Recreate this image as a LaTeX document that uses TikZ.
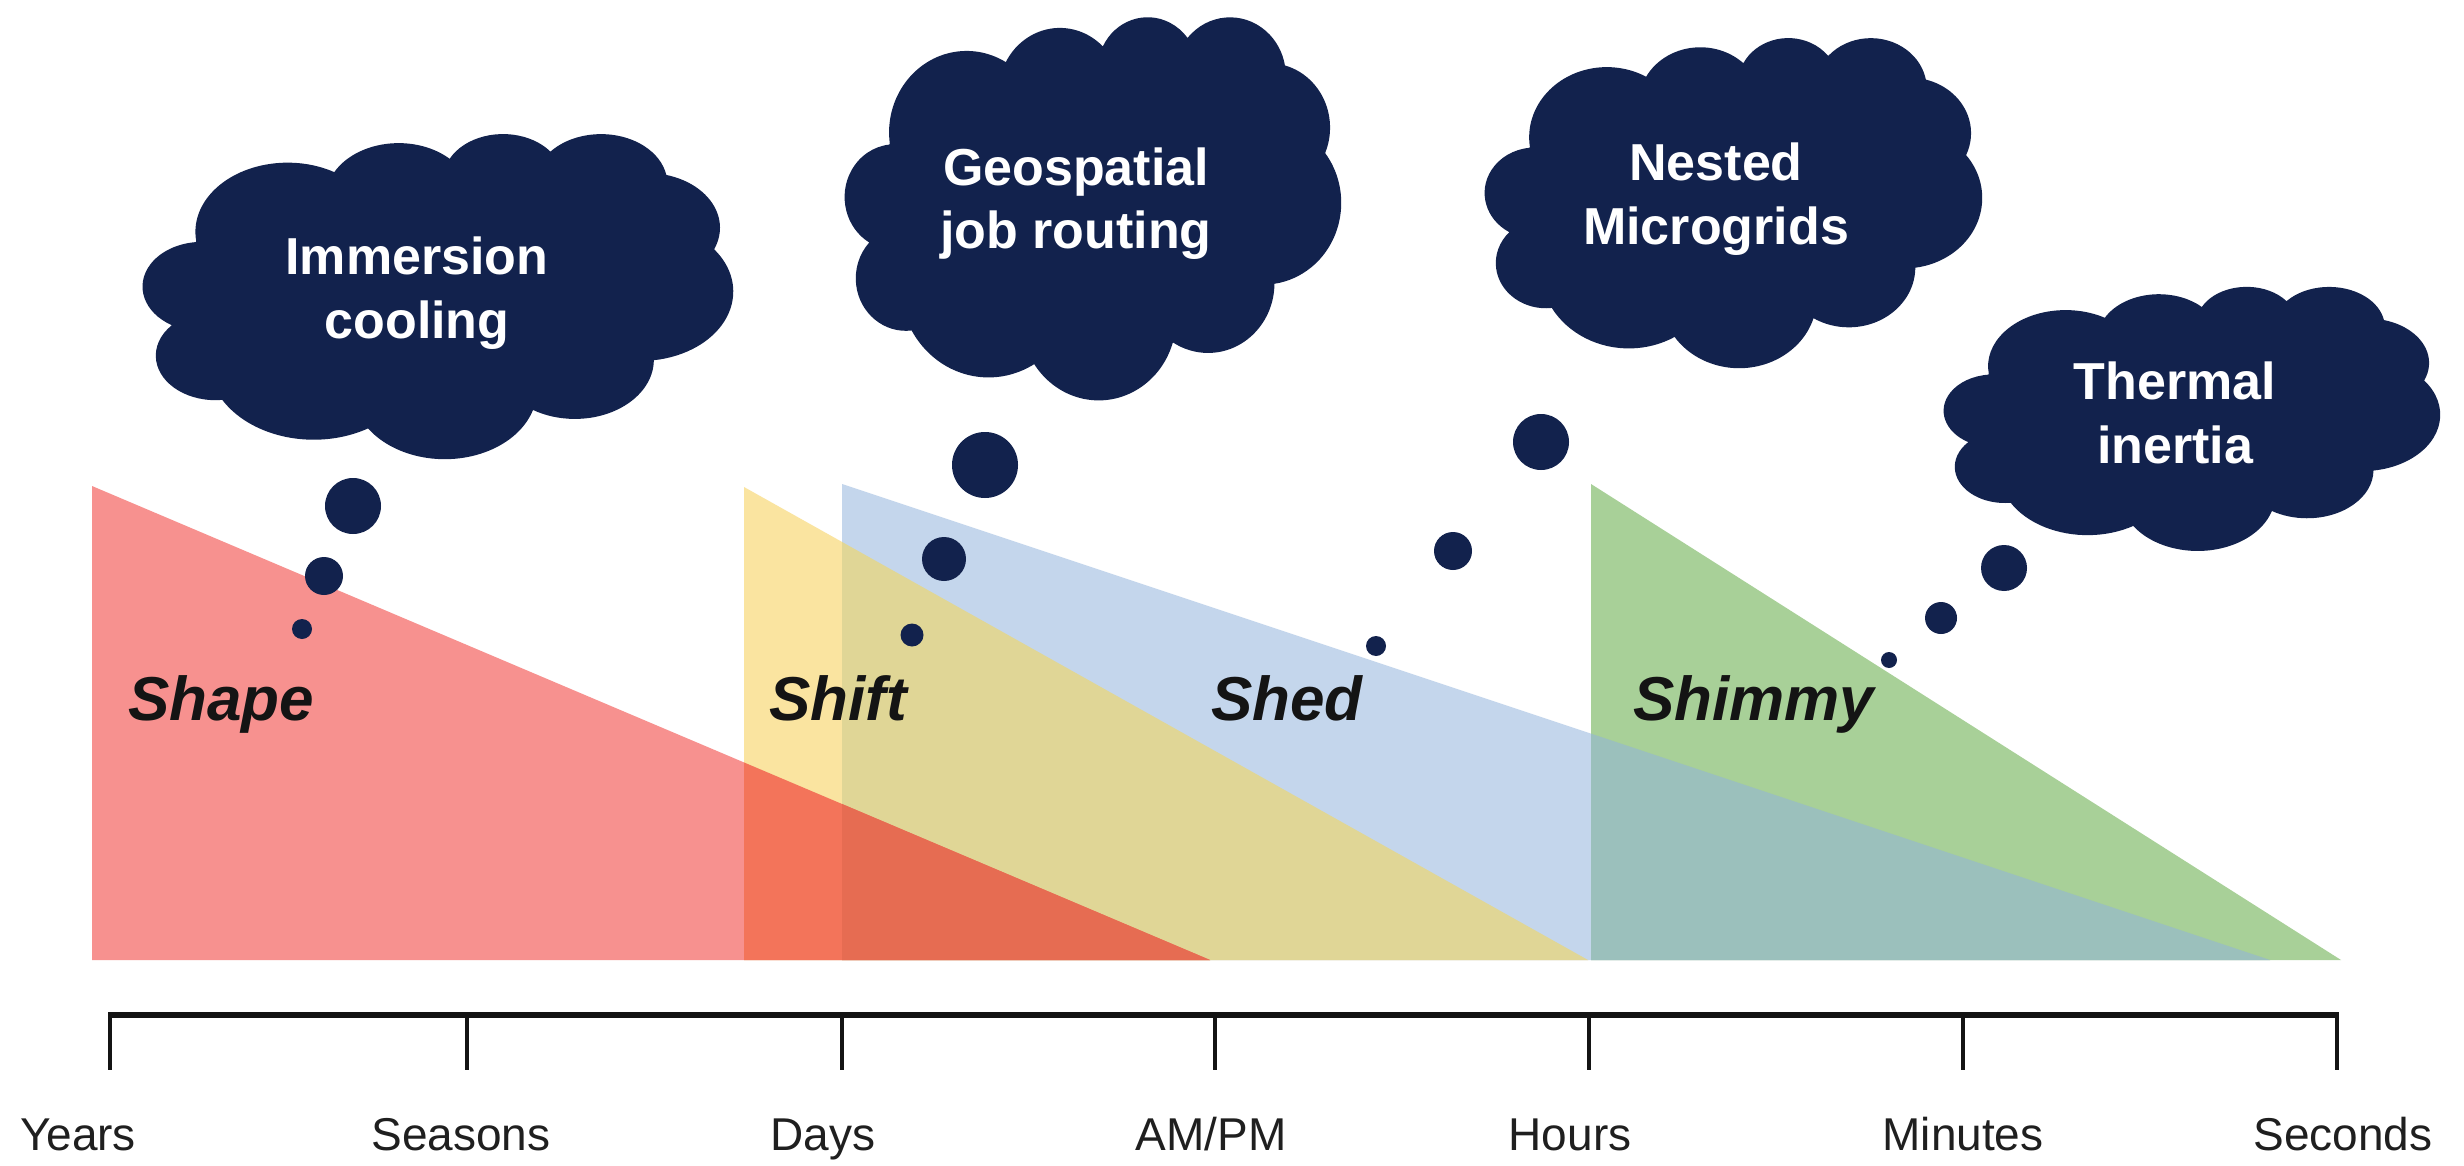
\documentclass[tikz,border=0pt]{standalone}
\usepackage{fontspec}
\setmainfont{Liberation Sans}
\definecolor{navy}{RGB}{18,34,77}
\definecolor{cRed}{RGB}{247,145,143}
\definecolor{cRY}{RGB}{243,116,90}
\definecolor{cRYB}{RGB}{230,108,82}
\definecolor{cYel}{RGB}{250,228,160}
\definecolor{cYB}{RGB}{224,214,150}
\definecolor{cBlue}{RGB}{196,214,236}
\definecolor{cGreen}{RGB}{168,208,152}
\definecolor{cBG}{RGB}{155,192,188}
\definecolor{axisgray}{RGB}{20,20,20}

\pgfmathdeclarefunction{cloudc}{3}{%
  \begingroup
  \pgfmathparse{atan2((#2)*sin(#1),(#3)*cos(#1)) - (#1)}%
  \pgfmathparse{\pgfmathresult - 360*round(\pgfmathresult/360)}%
  \pgfmathsmuggle\pgfmathresult
  \endgroup}

\newcommand\drawcloud[4]{%
  \begin{scope}[shift={(#1,#2)},xscale=#3/432,yscale=#4/432]
    \fill[navy] (39,143.70)
      arc[x radius=67.53,y radius=91.90,start angle={-190.4875+cloudc(-190.4875,67.53,91.90)},delta angle={123.7805+cloudc(-66.7070,67.53,91.90)-cloudc(-190.4875,67.53,91.90)}]
      arc[x radius=53.33,y radius=72.67,start angle={-144.1024+cloudc(-144.1024,53.33,72.67)},delta angle={89.9452+cloudc(-54.1572,53.33,72.67)-cloudc(-144.1024,53.33,72.67)}]
      arc[x radius=43.65,y radius=59.45,start angle={-145.8079+cloudc(-145.8079,43.65,59.45)},delta angle={99.7230+cloudc(-46.0849,43.65,59.45)-cloudc(-145.8079,43.65,59.45)}]
      arc[x radius=48.57,y radius=65.95,start angle={-130.9861+cloudc(-130.9861,48.57,65.95)},delta angle={117.2417+cloudc(-13.7444,48.57,65.95)-cloudc(-130.9861,48.57,65.95)}]
      arc[x radius=53.33,y radius=72.73,start angle={-78.7089+cloudc(-78.7089,53.33,72.73)},delta angle={109.0269+cloudc(30.3180,53.33,72.73)-cloudc(-78.7089,53.33,72.73)}]
      arc[x radius=67.75,y radius=92.20,start angle={-46.2673+cloudc(-46.2673,67.75,92.20)},delta angle={130.2690+cloudc(84.0017,67.75,92.20)-cloudc(-46.2673,67.75,92.20)}]
      arc[x radius=57.85,y radius=78.67,start angle={0.6250+cloudc(0.6250,57.85,78.67)},delta angle={114.0333+cloudc(114.6583,57.85,78.67)-cloudc(0.6250,57.85,78.67)}]
      arc[x radius=67.52,y radius=92.15,start angle={22.4516+cloudc(22.4516,67.52,92.15)},delta angle={115.1726+cloudc(137.6242,67.52,92.15)-cloudc(22.4516,67.52,92.15)}]
      arc[x radius=77.20,y radius=105.43,start angle={66.2426+cloudc(66.2426,77.20,105.43)},delta angle={75.7110+cloudc(141.9536,77.20,105.43)-cloudc(66.2426,77.20,105.43)}]
      arc[x radius=43.60,y radius=59.18,start angle={-274.9421+cloudc(-274.9421,43.60,59.18)},delta angle={146.7356+cloudc(-128.2065,43.60,59.18)-cloudc(-274.9421,43.60,59.18)}]
      arc[x radius=43.45,y radius=59.45,start angle={-246.8285+cloudc(-246.8285,43.45,59.45)},delta angle={152.5189+cloudc(-94.3096,43.45,59.45)-cloudc(-246.8285,43.45,59.45)}]
      -- cycle;
  \end{scope}}

\tikzset{
  cloudtxt/.style={text=white,font=\fontsize{52}{60}\selectfont\bfseries,anchor=base,inner sep=0pt},
  phase/.style={text=black!92,font=\fontsize{62}{70}\selectfont\bfseries\itshape,anchor=base west,inner sep=0pt},
  axlbl/.style={text=black!88,font=\fontsize{46}{52}\selectfont,anchor=base,inner sep=0pt},
  bubble/.style={fill=navy},
  axisline/.style={draw=axisgray,line width=6pt},
  tickline/.style={draw=axisgray,line width=4pt}
}

\begin{document}
\begin{tikzpicture}[x=1pt,y=-1pt]
\useasboundingbox (0,0) rectangle (2464,1166);
\fill[white] (0,0) rectangle (2464,1166);

% triangle vertices
\coordinate (rT) at (92,486);   \coordinate (rB) at (92,960);   \coordinate (rE) at (1210,960);
\coordinate (yT) at (744,487);  \coordinate (yB) at (744,960);  \coordinate (yE) at (1588,960);
\coordinate (bT) at (842,484);  \coordinate (bB) at (842,960);  \coordinate (bE) at (2270,960);
\coordinate (gT) at (1591,484); \coordinate (gB) at (1591,960); \coordinate (gE) at (2341,960);

\fill[cRed]   (rT) -- (rB) -- (rE) -- cycle;
\fill[cYel]   (yT) -- (yB) -- (yE) -- cycle;
\fill[cBlue]  (bT) -- (bB) -- (bE) -- cycle;
\fill[cGreen] (gT) -- (gB) -- (gE) -- cycle;
\begin{scope}
  \clip (yT) -- (yB) -- (yE) -- cycle;
  \fill[cYB] (bT) -- (bB) -- (bE) -- cycle;
\end{scope}
\begin{scope}
  \clip (rT) -- (rB) -- (rE) -- cycle;
  \fill[cRY] (yT) -- (yB) -- (yE) -- cycle;
  \fill[cRYB] (bT) -- (bB) -- (bE) -- cycle;
\end{scope}
\begin{scope}
  \clip (bT) -- (bB) -- (bE) -- cycle;
  \fill[cBG] (gT) -- (gB) -- (gE) -- cycle;
\end{scope}

% phase labels
\node[phase] (shape)  at (128,720)  {Shape};
\node[phase] (shift)  at (769,720)  {Shift};
\node[phase] (shed)   at (1211,720) {Shed};
\node[phase] (shimmy) at (1633,720) {Shimmy};

% axis
\coordinate (t1) at (110,1015);
\coordinate (t2) at (467,1015);
\coordinate (t3) at (842,1015);
\coordinate (t4) at (1215,1015);
\coordinate (t5) at (1589,1015);
\coordinate (t6) at (1963,1015);
\coordinate (t7) at (2337,1015);
\foreach \t in {t1,t2,t3,t4,t5,t6,t7} {\draw[tickline] (\t) -- ++(0,55);}
\draw[axisline,line cap=butt] ([xshift=-2pt]t1) -- ([xshift=2pt]t7);

\node[axlbl] (years)   at (78,1150)   {Years};
\node[axlbl] (seasons) at (461,1150)  {Seasons};
\node[axlbl] (days)    at (823,1150)  {Days};
\node[axlbl] (ampm)    at (1211,1150) {AM/PM};
\node[axlbl] (hours)   at (1570,1150) {Hours};
\node[axlbl] (minutes) at (1963,1150) {Minutes};
\node[axlbl] (seconds) at (2343,1150) {Seconds};

% clouds
\drawcloud{143}{133}{590}{325}
\drawcloud{845}{16}{496}{383}
\drawcloud{1485}{37}{497}{330}
\drawcloud{1944}{286}{496}{264}

% bubbles
\fill[bubble] (353,506) circle[radius=28];
\fill[bubble] (324,576) circle[radius=19];
\fill[bubble] (302,629) circle[radius=10];
\fill[bubble] (985,465) circle[radius=33];
\fill[bubble] (944,559) circle[radius=22];
\fill[bubble] (912,635) circle[radius=11.5];
\fill[bubble] (1541,442) circle[radius=28];
\fill[bubble] (1453,551) circle[radius=19];
\fill[bubble] (1376,646) circle[radius=10];
\fill[bubble] (2004,568) circle[radius=23];
\fill[bubble] (1941,618) circle[radius=16];
\fill[bubble] (1889,660) circle[radius=8];

% cloud texts
\node[cloudtxt] (c1a) at (417,274)  {Immersion};
\node[cloudtxt] (c1b) at (417,338)  {cooling};
\node[cloudtxt] (c2a) at (1076,186) {Geospatial};
\node[cloudtxt] (c2b) at (1076,249) {job routing};
\node[cloudtxt] (c3a) at (1716,181) {Nested};
\node[cloudtxt] (c3b) at (1716,245) {Microgrids};
\node[cloudtxt] (c4a) at (2175,399) {Thermal};
\node[cloudtxt] (c4b) at (2175,463) {inertia};
\end{tikzpicture}
\end{document}
